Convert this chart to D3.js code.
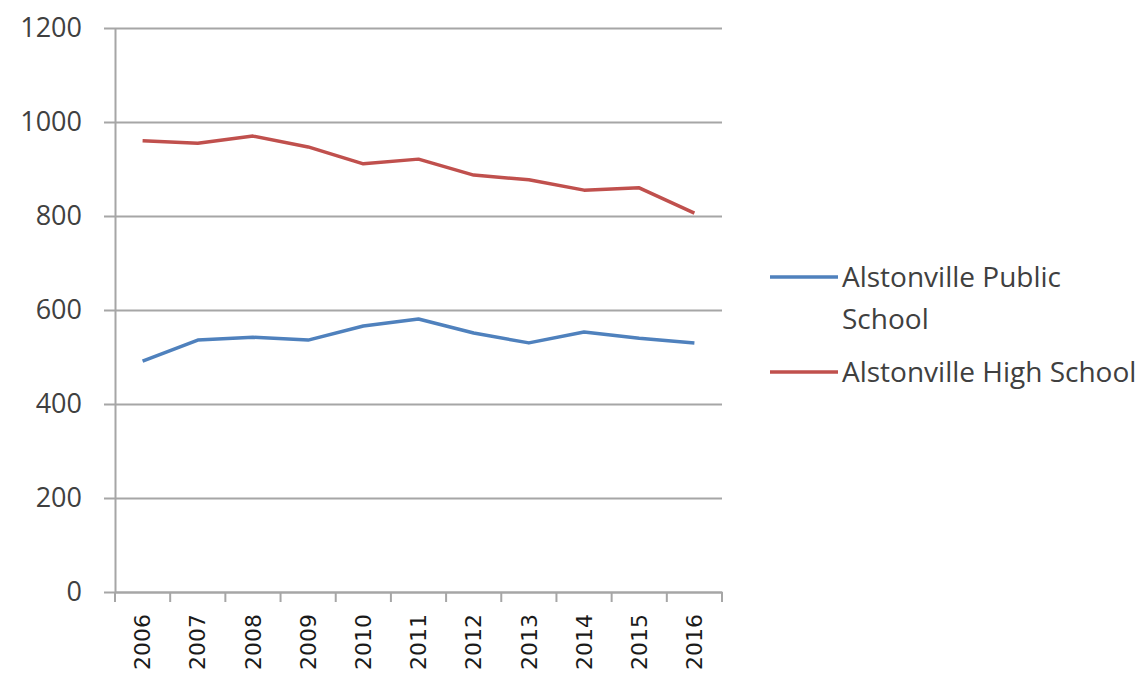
<!DOCTYPE html>
<html><head><meta charset="utf-8">
<script src="https://cdn.jsdelivr.net/npm/d3@7"></script>
<style>body{margin:0;background:#fff;} svg{display:block;}</style>
</head><body>
<svg id="c" width="1147" height="679"></svg>
<script>
const years = ["2006","2007","2008","2009","2010","2011","2012","2013","2014","2015","2016"];
const publicSchool = [491, 536, 542, 536, 566, 581, 551, 530, 553, 540, 530];
const highSchool = [960, 955, 970, 947, 911, 921, 887, 877, 855, 860, 806];
const yTicks = [0, 200, 400, 600, 800, 1000, 1200];
const seriesNames = ["Alstonville Public School", "Alstonville High School"];
const seriesColors = ["#4f81bd", "#c0504d"];

(function () {
const svg = d3.select("#c");
const pL = 115, pR = 722, pT = 28, pB = 592;
const x = d3.scaleBand().domain(years).range([pL, pR]);
const y = d3.scaleLinear().domain([0, 1200]).range([pB, pT]);

// gridlines
const yAxis = d3.axisLeft(y).tickValues(yTicks).tickFormat(d3.format("d"))
  .tickSize(-(pR - pL)).tickSizeOuter(0);
const gy = svg.append("g").attr("transform", `translate(${pL},0)`).call(yAxis);
gy.select(".domain").attr("stroke", "#a6a6a6").attr("stroke-width", 2);
gy.selectAll(".tick line").attr("stroke", "#a6a6a6").attr("stroke-width", 2).attr("x1", -11);
gy.selectAll(".tick text").attr("font-family", "Open Sans").attr("font-size", 27).attr("fill", "#404040").attr("x", -33);

// x axis
const xAxis = d3.axisBottom(x).tickSize(0).tickSizeOuter(0);
const gx = svg.append("g").attr("transform", `translate(0,${pB})`).call(xAxis);
gx.select(".domain").attr("stroke", "#a6a6a6").attr("stroke-width", 2);
gx.selectAll(".tick text")
  .attr("font-family", "DejaVu Sans").attr("font-size", 22).attr("fill", "#1a1a1a")
  .attr("transform", "rotate(-90)").attr("text-anchor", "end").attr("dy", "0.35em")
  .attr("x", -22).attr("y", 0);
// boundary tick marks
const bounds = years.map(d => x(d)).concat([x(years[years.length-1]) + x.bandwidth()]);
gx.selectAll("line.bt").data(bounds).enter().append("line").attr("class","bt")
  .attr("x1", d => d).attr("x2", d => d).attr("y1", 0).attr("y2", 10)
  .attr("stroke", "#a6a6a6").attr("stroke-width", 2);

// lines
const line = d3.line().x((d, i) => x(years[i]) + x.bandwidth() / 2).y(d => y(d));
[publicSchool, highSchool].forEach((s, k) => {
  svg.append("path").datum(s).attr("d", line).attr("fill", "none")
    .attr("stroke", seriesColors[k]).attr("stroke-width", 3.5).attr("stroke-linejoin", "round");
});

// legend
const lg = svg.append("g");
const legendY = [277, 372];
const legendLines = [["Alstonville Public", "School"], ["Alstonville High School"]];
legendLines.forEach((lines, k) => {
  lg.append("line").attr("x1", 770).attr("x2", 838).attr("y1", legendY[k]).attr("y2", legendY[k])
    .attr("stroke", seriesColors[k]).attr("stroke-width", 3.5);
  lines.forEach((t, j) => {
    lg.append("text").attr("x", 842).attr("y", legendY[k] + j * 42).attr("dy", "0.35em")
      .attr("font-family", "Open Sans").attr("font-size", 28).attr("fill", "#404040").text(t);
  });
});
})();
</script>
</body></html>
